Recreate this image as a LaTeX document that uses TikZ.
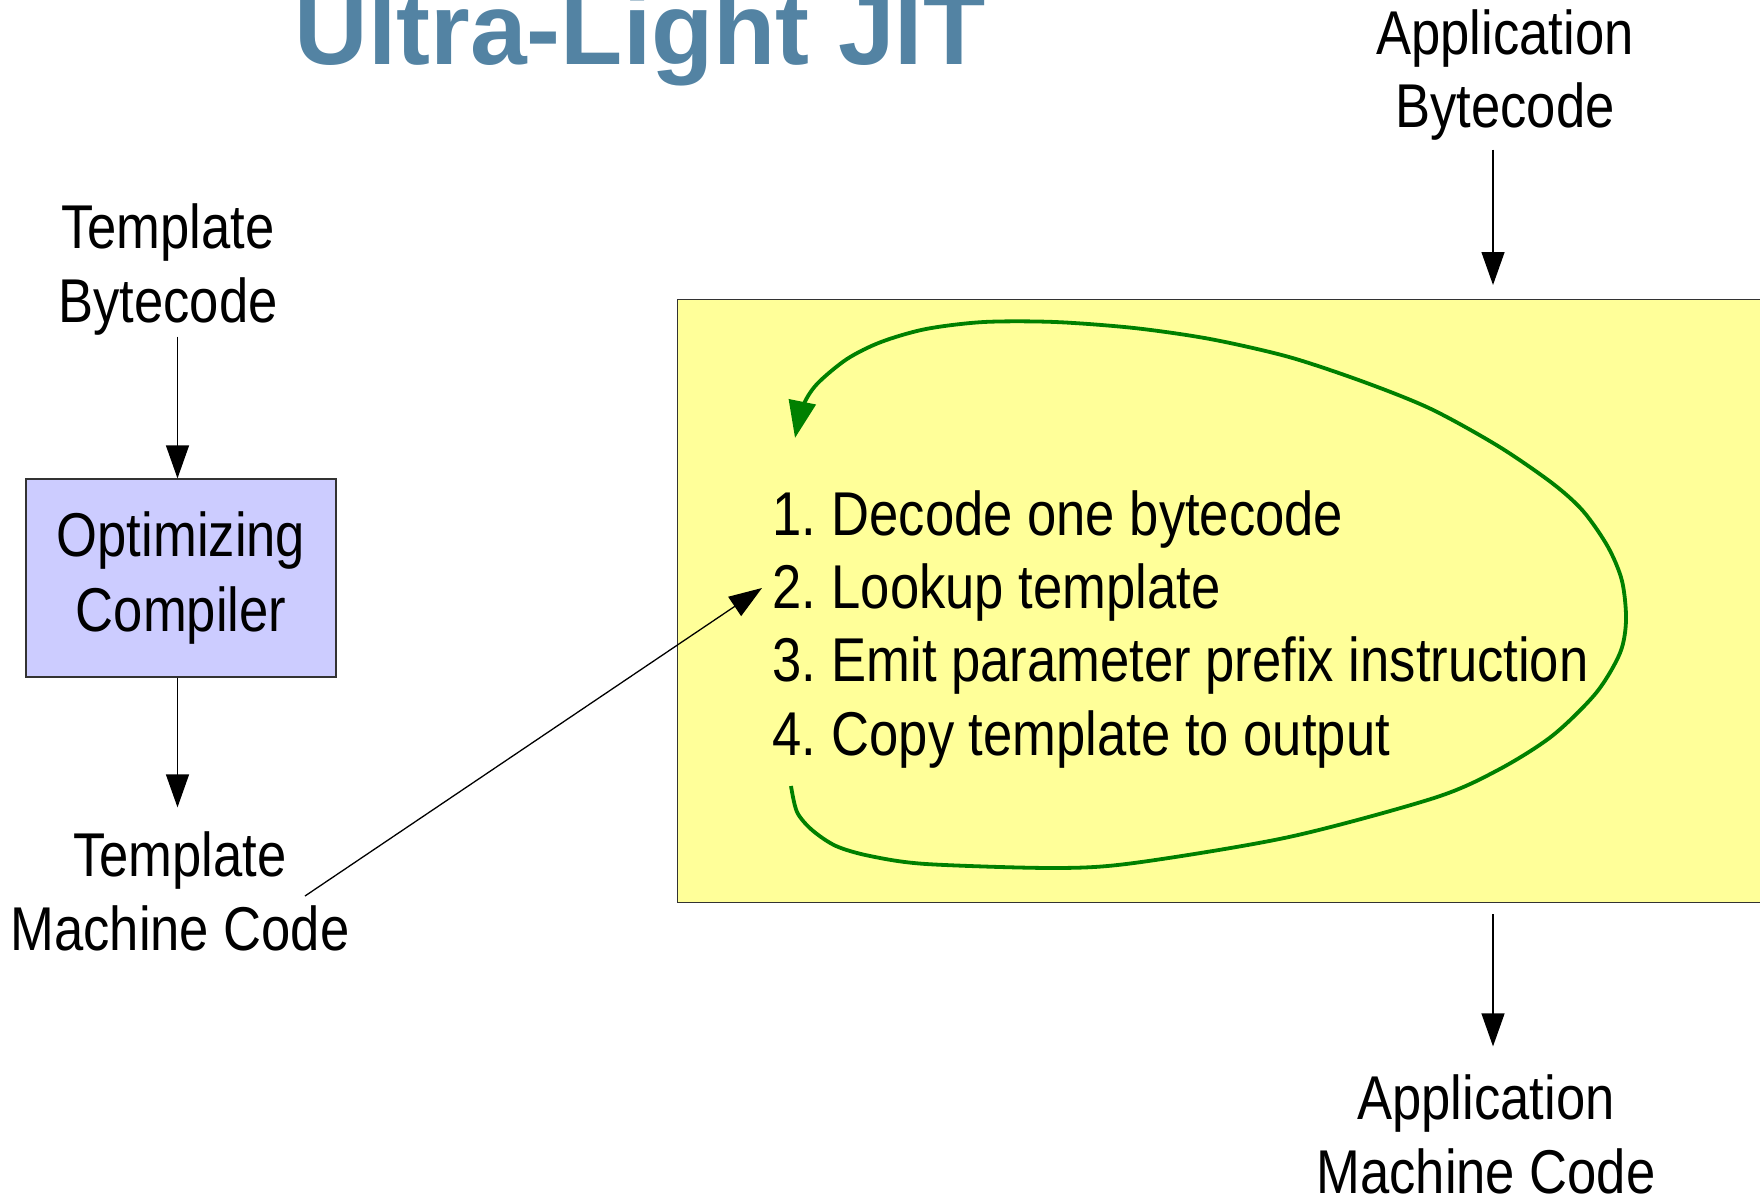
\documentclass[tikz,border=0pt]{standalone}
\usepackage{fontspec}
\setmainfont[FakeStretch=0.85]{Liberation Sans}
\newfontfamily\titlefont{Liberation Sans}
\usetikzlibrary{arrows.meta,positioning}
\definecolor{jittitle}{HTML}{5383A3}
\definecolor{jityellow}{HTML}{FFFF99}
\definecolor{optblue}{HTML}{CCCCFF}
\definecolor{loopgreen}{HTML}{008000}
\definecolor{edgegray}{HTML}{333333}
\tikzset{
  labeltext/.style={
    inner sep=0pt, align=center,
    font=\fontsize{17.6pt}{20.8pt}\selectfont
  },
  titletext/.style={
    inner sep=0pt, text=jittitle,
    font=\titlefont\bfseries\fontsize{29pt}{34pt}\selectfont
  },
  stagebox/.style={
    rectangle, draw=edgegray, fill=#1, line width=0.12mm,
    inner sep=0pt, align=center,
    font=\fontsize{17.6pt}{21.6pt}\selectfont
  },
  stagebox/.default=optblue,
  flowarrow/.style={
    -{Triangle[length=3.3mm, width=2.3mm]}, line width=0.13mm, draw=black
  },
  loopline/.style={
    -{Triangle[length=3.7mm, width=2.7mm]}, line width=0.38mm, draw=loopgreen
  },
}
\begin{document}
\begin{tikzpicture}[x=0.1mm, y=-0.1mm]
  \useasboundingbox (0,0) rectangle (1760,1197);

  \node[titletext, anchor=base west] (title) at (294,65) {Ultra-Light JIT};

  % template side (base = last line)
  \node[labeltext, anchor=base] (tbc) at (168,322) {Template\\Bytecode};
  \node[stagebox, minimum width=31mm, minimum height=19.8mm] (comp) at (181,578)
    {Optimizing\\Compiler};
  \node[labeltext, anchor=base] (tmc) at (180,950) {Template\\Machine Code};

  % application side
  \node[stagebox=jityellow, anchor=north west, minimum width=120mm,
    minimum height=60.3mm] (jit) at (677,299) {};
  \node[labeltext, anchor=base] (abc) at (1505,128) {Application\\Bytecode};
  \node[labeltext, anchor=base] (amc) at (1486,1193) {Application\\Machine Code};
  \node[labeltext, align=left, anchor=base west] (steps) at (772,755)
    {1.\hspace{-0.07em} Decode one bytecode\\2.\hspace{-0.07em} Lookup template\\
     3.\hspace{-0.07em} Emit parameter prefix instruction\\
     4.\hspace{-0.07em} Copy template to output};

  \coordinate (lookfrom) at (305,896);
  \coordinate (lookto) at (762,588);

  % connectors
  \draw[flowarrow, shorten <=0.1mm]
    ([xshift=-0.35mm]comp.north |- tbc.south) -- ([xshift=-0.35mm]comp.north);
  \draw[flowarrow, shorten >=2.4mm]
    ([xshift=-0.35mm]comp.south) -- ([xshift=-0.35mm]comp.south |- tmc.north);
  \draw[flowarrow, shorten <=0.8mm, shorten >=1.4mm]
    ([xshift=-1.2mm]abc.south) -- ([xshift=-1.2mm]abc.south |- jit.north);
  \draw[flowarrow, shorten <=1.1mm, shorten >=2.8mm]
    ([xshift=0.7mm]amc.north |- jit.south) -- ([xshift=0.7mm]amc.north);
  \draw[flowarrow] (lookfrom) -- (lookto);

  % decode loop
  \draw[loopline] plot[smooth] coordinates {
    (791,786) (797,812) (812,830) (836,846) (870,856) (926,864) (1055,868)
    (1134,863) (1289,837) (1434,798) (1498,770) (1552,736) (1596,693)
    (1620,653) (1626,620) (1622,581) (1608,547) (1583,511) (1552,483)
    (1498,446) (1431,409) (1364,382) (1289,357) (1210,339) (1134,328)
    (1055,322) (984,322) (926,329) (881,342) (847,359) (817,384) (803,406)
    (795,438)};
\end{tikzpicture}
\end{document}
